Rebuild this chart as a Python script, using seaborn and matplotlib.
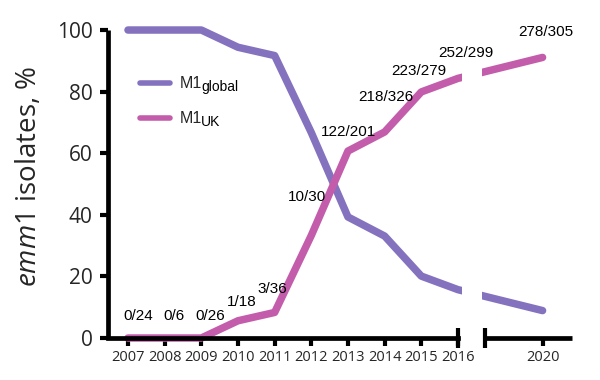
import numpy as np
import pandas as pd
import matplotlib
matplotlib.use("Agg")
import matplotlib.pyplot as plt
import seaborn as sns

# ---- data ----
years = [2007, 2008, 2009, 2010, 2011, 2012, 2013, 2014, 2015, 2016, 2020]
m1_global = [100, 100, 100, 94.4, 91.7, 66.7, 39.3, 33.1, 20.1, 15.7, 8.9]
m1_uk = [0, 0, 0, 5.6, 8.3, 33.3, 60.7, 66.9, 79.9, 84.3, 91.1]
count_labels = ["0/24", "0/6", "0/26", "1/18", "3/36", "10/30",
                "122/201", "218/326", "223/279", "252/299", "278/305"]
y_ticks = [0, 20, 40, 60, 80, 100]
x_tick_years = [2007, 2008, 2009, 2010, 2011, 2012, 2013, 2014, 2015, 2016, 2020]
series_names = ["M1", "M1"]
series_subs = ["global", "UK"]

# label offsets (pixels) relative to each UK point
label_offsets = [(10, 22), (9, 22), (9, 22), (4, 19), (-2, 23), (-4, 38),
                 (1, 19), (1, 35), (-2, 21), (8, 25), (3, 25)]

c_global = "#8472BF"
c_uk = "#C35DAB"

sns.set_theme(style="white")
plt.rcParams["font.family"] = ["Open Sans", "DejaVu Sans"]
plt.rcParams["mathtext.fontset"] = "custom"
plt.rcParams["mathtext.it"] = "Open Sans:italic"
plt.rcParams["mathtext.rm"] = "Open Sans"

# broken axis scale: 2007-2016 one unit per year, after break compressed
K = 0.577


def fwd(x):
    x = np.asarray(x, dtype=float)
    return np.where(x <= 2016, x - 2007, 9 + (x - 2016) * K)


def inv(p):
    p = np.asarray(p, dtype=float)
    return np.where(p <= 9, p + 2007, 2016 + (p - 9) / K)


fig = plt.figure(figsize=(6, 3.8), dpi=100)
ax = fig.add_axes([0.18, 0.1105, 0.7733, 0.8105])
ax.set_xscale("function", functions=(fwd, inv))

df = pd.DataFrame({"year": years, "global": m1_global, "uk": m1_uk})
sns.lineplot(data=df, x="year", y="global", ax=ax, color=c_global, linewidth=5.4,
             solid_capstyle="round", label=series_names[0], clip_on=False, zorder=2)
sns.lineplot(data=df, x="year", y="uk", ax=ax, color=c_uk, linewidth=5.4,
             solid_capstyle="round", label=series_names[1], clip_on=False, zorder=2)

x_left = float(inv(-0.545))
x_right = float(inv(12.11))
ax.set_xlim(x_left, x_right)
ax.set_ylim(0, 100)

# gap for the break
gap_a = float(inv(9.11))
gap_b = float(inv(9.654))
ax.axvspan(gap_a, gap_b, color="white", zorder=3, lw=0)

# annotations
for x, y, t, (dx, dy) in zip(years, m1_uk, count_labels, label_offsets):
    ax.annotate(t, (x, y), xytext=(dx, dy), textcoords="offset pixels",
                ha="center", va="center", fontsize=11, family="Liberation Sans",
                color="black", zorder=5)

# spines
for s in ["top", "right"]:
    ax.spines[s].set_visible(False)
lw_sp = 3.4
ax.spines["left"].set_linewidth(lw_sp)
ax.spines["left"].set_color("black")
ax.spines["bottom"].set_linewidth(lw_sp)
ax.spines["bottom"].set_color("black")
ax.spines["bottom"].set_bounds(x_left, 2016)
ax.spines["left"].set_capstyle("butt")

seg2_start = float(inv(9.736))
ax.plot([seg2_start, x_right], [0, 0], color="black", lw=lw_sp, clip_on=False,
        solid_capstyle="butt", zorder=4)
for xc in [2016, seg2_start]:
    ax.plot([xc, xc], [-3.25, 3.25], color="black", lw=3.0, clip_on=False,
            solid_capstyle="butt", zorder=4)

ax.set_yticks(y_ticks)
ax.set_xticks(x_tick_years)
ax.set_xticklabels([str(y) for y in x_tick_years])
ax.tick_params(axis="y", direction="out", length=6, width=3, color="black",
               labelsize=15, pad=5, left=True)
ax.tick_params(axis="x", direction="out", length=5.5, width=3, color="black",
               labelsize=10.5, pad=3, bottom=True)

ax.set_xlabel("")
ax.set_ylabel(r"$\mathit{emm1}$ isolates, %", fontsize=20)
ax.yaxis.set_label_coords(-0.14, 0.526)

leg = ax.legend(loc="upper left", bbox_to_anchor=(0.069, 0.85), frameon=False,
                prop={"family": "Liberation Sans", "size": 11.5},
                handlelength=1.9, handletextpad=0.6, labelspacing=1.25,
                borderpad=0, borderaxespad=0)
for ln in leg.get_lines():
    ln.set_linewidth(4)
    ln.set_solid_capstyle("round")

fig.canvas.draw()
for txt, sub in zip(leg.get_texts(), series_subs):
    ax.annotate(sub, xy=(1.0, 0.0), xycoords=txt, xytext=(-1, 0),
                textcoords="offset pixels", ha="left", va="baseline",
                fontsize=10, family="Liberation Sans", color="black")

fig.savefig("out.png", dpi=100)
